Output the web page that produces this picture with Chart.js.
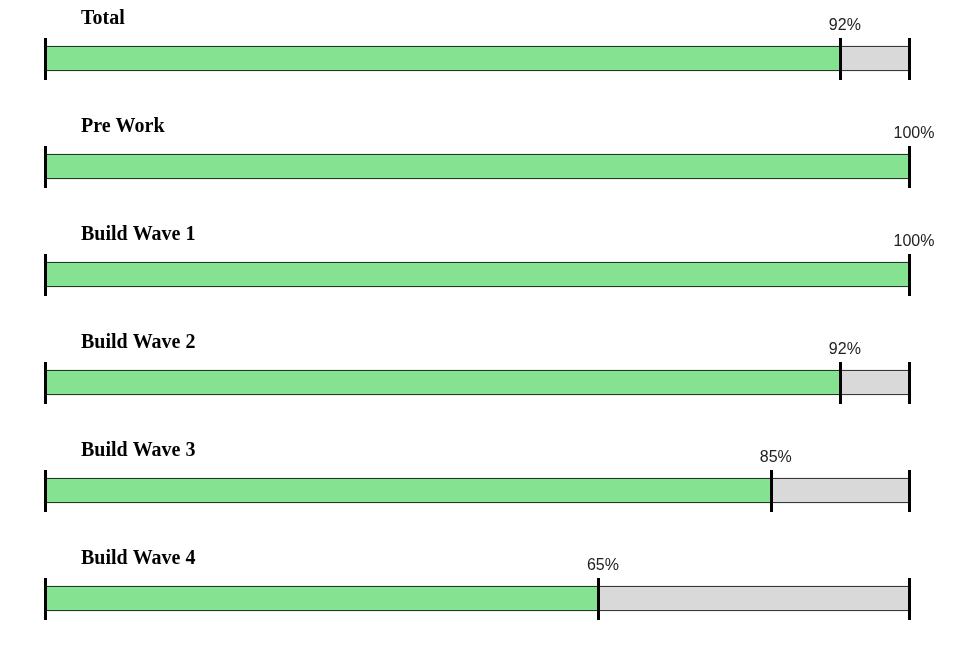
<!DOCTYPE html>
<html>
<head>
<meta charset="utf-8">
<script src="https://cdn.jsdelivr.net/npm/chart.js@4"></script>
<style>
body{margin:0;background:#fff;}
#wrap{width:970px;height:660px;}
</style>
</head>
<body>
<div id="wrap"><canvas id="progressChart"></canvas></div>
<script>
const stages = ["Total", "Pre Work", "Build Wave 1", "Build Wave 2", "Build Wave 3", "Build Wave 4"];
const done = [92, 100, 100, 92, 84, 64];
const doneLabels = ["92%", "100%", "100%", "92%", "85%", "65%"];
const scaleMax = 100;

let remaining = done.map(v => scaleMax - v);

/* TICKS, TITLES, PERCENT LABELS */
const progressMarks = {
    id: 'progressMarks',
    afterDatasetsDraw(chart){

        let ctx = chart.ctx;
        let x = chart.scales.x;
        let bars = chart.getDatasetMeta(0).data;

        ctx.save();

        bars.forEach((bar, i) => {

            let top = bar.y - bar.height / 2;
            let bottom = bar.y + bar.height / 2;

            // thick markers at start, progress, end
            ctx.strokeStyle = "#000";
            ctx.lineWidth = 3;
            [0, done[i], scaleMax].forEach(v => {
                let px = Math.round(x.getPixelForValue(v)) + 0.5;
                ctx.beginPath();
                ctx.moveTo(px, top - 8);
                ctx.lineTo(px, bottom + 9);
                ctx.stroke();
            });

            // stage title
            ctx.fillStyle = "#000";
            ctx.font = "bold 20px 'Liberation Serif', 'Times New Roman', serif";
            ctx.textAlign = "left";
            ctx.textBaseline = "middle";
            ctx.fillText(stages[i], x.getPixelForValue(0) + 36, top - 27);

            // percent label
            ctx.fillStyle = "#222";
            ctx.font = "16px 'Liberation Sans', Arial, sans-serif";
            ctx.textAlign = "center";
            ctx.fillText(doneLabels[i], x.getPixelForValue(done[i]) + 5, top - 20);
        });

        ctx.restore();
    }
};

/* CHART */
new Chart(document.getElementById("progressChart"), {
    type: 'bar',
    data: {
        labels: stages,
        datasets: [{
            label: "Done",
            data: done,
            backgroundColor: "rgb(132,226,145)",
            borderColor: "#000",
            borderWidth: {top: 1, bottom: 1, left: 0, right: 0},
            borderSkipped: false,
            barThickness: 25
        }, {
            label: "Remaining",
            data: remaining,
            backgroundColor: "rgb(217,217,217)",
            borderColor: "#000",
            borderWidth: {top: 1, bottom: 1, left: 0, right: 0},
            borderSkipped: false,
            barThickness: 25
        }]
    },
    options: {
        indexAxis: 'y',
        responsive: true,
        maintainAspectRatio: false,
        animation: false,
        layout: {
            padding: {left: 45, right: 61, top: 4.5, bottom: 7.5}
        },
        scales: {
            x: {stacked: true, min: 0, max: scaleMax, display: false},
            y: {stacked: true, display: false}
        },
        plugins: {
            legend: {display: false},
            tooltip: {enabled: false}
        }
    },
    plugins: [progressMarks]
});
</script>
</body>
</html>
